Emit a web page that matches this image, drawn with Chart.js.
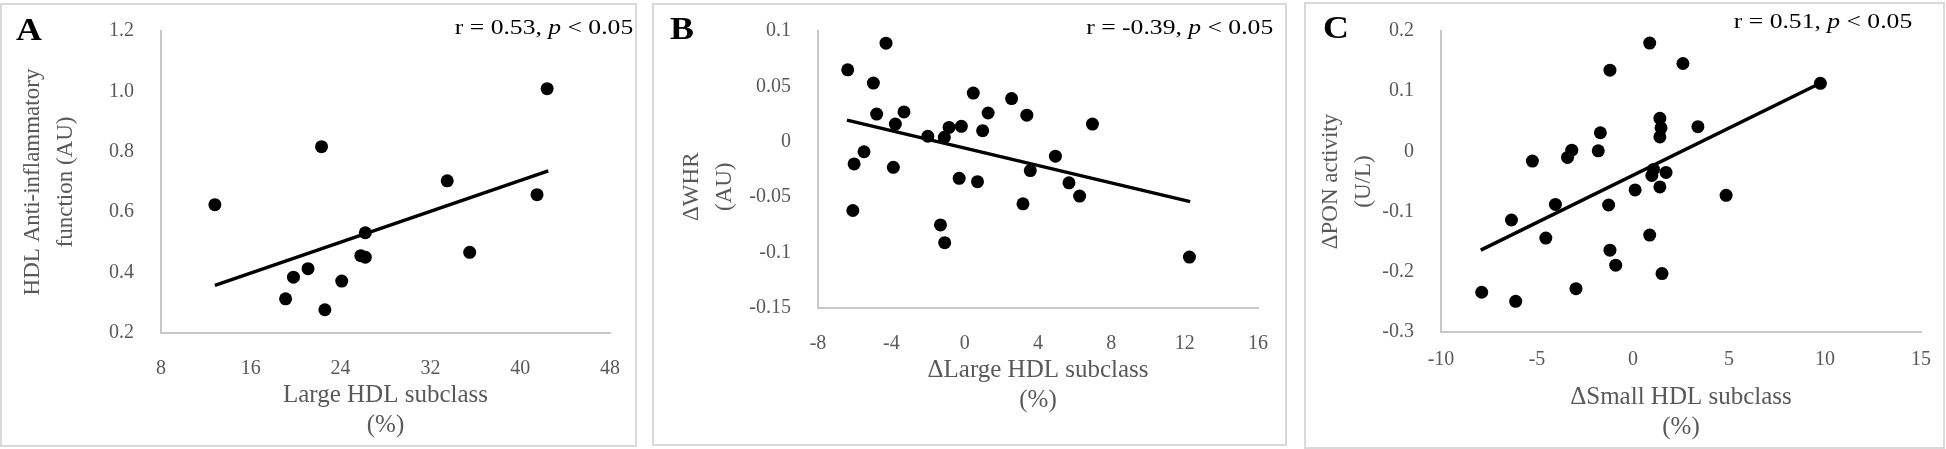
<!DOCTYPE html>
<html>
<head>
<meta charset="utf-8">
<script src="https://cdn.jsdelivr.net/npm/chart.js@4.4.0/dist/chart.umd.min.js"></script>
<style>
  body { margin: 0; width: 1946px; height: 449px; background: #fff; position: relative; overflow: hidden;
         font-family: "Liberation Serif", "Times New Roman", serif; }
  .panel { position: absolute; border: 2px solid #d9d9d9; box-sizing: border-box; }
  canvas { position: absolute; top: 0; }
  .tag { position: absolute; font-weight: bold; font-size: 32px; line-height: 32px; color: #000;
         transform-origin: 0 0; transform: scaleX(1.12); }
  .stat { position: absolute; font-size: 21px; line-height: 21px; color: #000; white-space: nowrap;
          transform-origin: 100% 0; transform: scaleX(1.22); }
</style>
</head>
<body>
<div class="panel" style="left:0;top:3px;width:637px;height:444px"></div>
<div class="panel" style="left:652px;top:3px;width:635px;height:443px"></div>
<div class="panel" style="left:1304px;top:2px;width:641px;height:447px"></div>

<canvas id="chartA" width="634" height="449" style="left:2px;width:634px;height:449px"></canvas>
<canvas id="chartB" width="630" height="449" style="left:655px;width:630px;height:449px"></canvas>
<canvas id="chartC" width="637" height="449" style="left:1307px;width:637px;height:449px"></canvas>

<div class="tag" style="left:16px;top:13px">A</div>
<div class="tag" style="left:670px;top:12px">B</div>
<div class="tag" style="left:1323px;top:11px">C</div>

<div class="stat" style="right:1313px;top:17px">r = 0.53, <i>p</i> &lt; 0.05</div>
<div class="stat" style="right:673px;top:17px">r = -0.39, <i>p</i> &lt; 0.05</div>
<div class="stat" style="right:34px;top:11px">r = 0.51, <i>p</i> &lt; 0.05</div>

<script>
// panel A: large HDL subclass vs anti-inflammatory function
const aX = [12.8, 22.3, 42.4, 33.5, 41.5, 26.2, 25.8, 26.2, 35.5, 21.1, 19.8, 24.1, 19.1, 22.6];
const aY = [0.625, 0.817, 1.009, 0.704, 0.658, 0.532, 0.456, 0.451, 0.467, 0.413, 0.385, 0.372, 0.313, 0.277];
const aTrendX = [12.8, 42.5];
const aTrendY = [0.358, 0.737];
const aXTicks = [8, 16, 24, 32, 40, 48];
const aYTicks = ['0.2', '0.4', '0.6', '0.8', '1.0', '1.2'];

// panel B: change in large HDL vs change in WHR
const bX = [-6.38, -4.29, -4.98, -4.80, -3.31, -3.78, -2.01, -1.11, -0.85, -0.18, 0.47, 0.98, 1.28, 2.56, 3.39,
            6.97, 4.95, 3.58, 5.69, 6.27, 3.18, -0.30, 0.70, -5.49, -6.03, -3.89, -6.10, -1.32, -1.09, 12.26];
const bY = [0.065, 0.089, 0.053, 0.025, 0.027, 0.016, 0.005, 0.004, 0.013, 0.014, 0.044, 0.010, 0.026, 0.039, 0.024,
            0.016, -0.013, -0.026, -0.037, -0.049, -0.056, -0.033, -0.036, -0.009, -0.020, -0.023, -0.062, -0.075, -0.091, -0.104];
const bTrendX = [-6.42, 12.3];
const bTrendY = [0.0196, -0.054];
const bXTicks = [-8, -4, 0, 4, 8, 12, 16];
const bYTicks = ['-0.15', '-0.1', '-0.05', '0', '0.05', '0.1'];

// panel C: change in small HDL vs change in PON activity
const cX = [0.87, 2.60, -1.20, 9.76, 1.40, 1.46, 1.40, 3.38, -1.70, -1.81, -3.19, -3.41, -5.24, 1.07, 0.98,
            1.72, 0.11, 1.40, 4.85, -4.04, -1.27, -6.33, -4.54, 0.87, -1.20, -0.90, 1.51, -2.97, -7.88, -6.11];
const cY = [0.180, 0.146, 0.135, 0.113, 0.055, 0.039, 0.024, 0.041, 0.031, 0.001, 0.002, -0.010, -0.016, -0.030, -0.040,
            -0.035, -0.064, -0.059, -0.073, -0.088, -0.089, -0.114, -0.144, -0.139, -0.164, -0.189, -0.203, -0.228, -0.234, -0.249];
const cTrendX = [-7.93, 9.80];
const cTrendY = [-0.164, 0.114];
const cXTicks = [-10, -5, 0, 5, 10, 15];
const cYTicks = ['-0.3', '-0.2', '-0.1', '0', '0.1', '0.2'];

const grey = '#595959';
const serif = 'Liberation Serif';

function pairs(xs, ys) {
  return xs.map((x, i) => ({ x: x, y: ys[i] }));
}

function drawPanel(id, p) {
  new Chart(document.getElementById(id), {
    type: 'scatter',
    data: {
      datasets: [
        {
          data: pairs(p.x, p.y),
          backgroundColor: '#000',
          borderWidth: 0,
          pointRadius: 6.5,
          pointHoverRadius: 6.5,
        },
        {
          data: pairs(p.trendX, p.trendY),
          showLine: true,
          borderColor: '#000',
          borderWidth: 3.5,
          pointRadius: 0,
          fill: false,
        },
      ],
    },
    options: {
      responsive: false,
      animation: false,
      layout: { padding: { left: 0, top: p.top, right: p.right, bottom: 0 } },
      plugins: { legend: { display: false }, tooltip: { enabled: false } },
      scales: {
        x: {
          type: 'linear',
          min: p.xTicks[0],
          max: p.xTicks[p.xTicks.length - 1],
          afterBuildTicks: (s) => { s.ticks = p.xTicks.map((v) => ({ value: v })); },
          afterFit: (s) => { s.height = p.xAxisH; },
          grid: { display: false },
          border: { display: true, color: '#c8c8c8', width: 2 },
          ticks: { color: grey, padding: p.xPad, font: { family: serif, size: 20 }, callback: (v) => String(v) },
          title: {
            display: true,
            text: p.xTitle,
            color: grey,
            font: { family: serif, size: 25, lineHeight: 1.2 },
            padding: { top: 0, bottom: p.xTitlePad },
          },
        },
        y: {
          type: 'linear',
          min: Number(p.yTicks[0]),
          max: Number(p.yTicks[p.yTicks.length - 1]),
          afterBuildTicks: (s) => { s.ticks = p.yTicks.map((v) => ({ value: Number(v) })); },
          afterFit: (s) => { s.width = p.yAxisW; },
          grid: { display: false },
          border: { display: true, color: '#c8c8c8', width: 2 },
          ticks: { color: grey, padding: 19, font: { family: serif, size: 20 },
                   callback: (v, i) => p.yTicks[i] },
          title: {
            display: true,
            text: p.yTitle,
            color: grey,
            font: { family: serif, size: 23, lineHeight: 1.45 },
            padding: { top: p.yTitlePad, bottom: 0 },
          },
        },
      },
    },
  });
}

drawPanel('chartA', {
  x: aX, y: aY, trendX: aTrendX, trendY: aTrendY, xTicks: aXTicks, yTicks: aYTicks,
  xTitle: ['Large HDL subclass', '(%)'], yTitle: ['HDL Anti-inflammatory', 'function (AU)'],
  top: 30, right: 20, yAxisW: 159, xAxisH: 116, xPad: 16, xTitlePad: 9, yTitlePad: 14,
});

drawPanel('chartB', {
  x: bX, y: bY, trendX: bTrendX, trendY: bTrendY, xTicks: bXTicks, yTicks: bYTicks,
  xTitle: ['\u0394Large HDL subclass', '(%)'],
  yTitle: ['\u0394WHR\u00a0\u00a0\u00a0\u00a0\u00a0\u00a0', '(AU)\u00a0\u00a0\u00a0\u00a0\u00a0\u00a0'],
  top: 31, right: 27, yAxisW: 163, xAxisH: 141, xPad: 16, xTitlePad: 34, yTitlePad: 20,
});

drawPanel('chartC', {
  x: cX, y: cY, trendX: cTrendX, trendY: cTrendY, xTicks: cXTicks, yTicks: cYTicks,
  xTitle: ['\u0394Small HDL subclass', '(%)'], yTitle: ['\u0394PON activity', '(U/L)'],
  top: 18, right: 23, yAxisW: 134, xAxisH: 117, xPad: 8, xTitlePad: 7, yTitlePad: 7,
});
</script>
</body>
</html>
